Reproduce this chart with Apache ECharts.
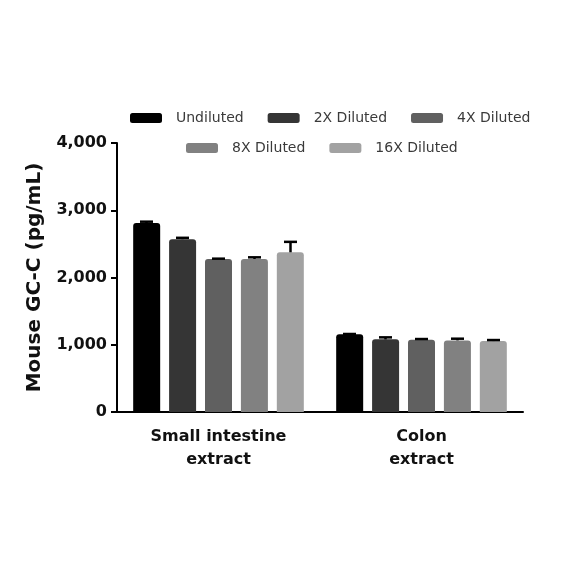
<!DOCTYPE html>
<html>
<head>
<meta charset="utf-8">
<script src="https://cdn.jsdelivr.net/npm/echarts@6/dist/echarts.min.js"></script>
<style>
  html, body { margin: 0; padding: 0; background: #fff; }
  #chart { width: 584px; height: 584px; }
</style>
</head>
<body>
<div id="chart"></div>
<script>
// data
var categories = ['Small intestine\nextract', 'Colon\nextract'];
var seriesNames = ['Undiluted', '2X Diluted', '4X Diluted', '8X Diluted', '16X Diluted'];
var undiluted = [2810, 1155];
var diluted2x = [2570, 1080];
var diluted4x = [2275, 1075];
var diluted8x = [2275, 1065];
var diluted16x = [2375, 1055];
var errUndiluted = [20, 5];
var err2x = [20, 30];
var err4x = [5, 10];
var err8x = [25, 25];
var err16x = [155, 15];
var yTicks = [0, 1000, 2000, 3000, 4000];

var values = [undiluted, diluted2x, diluted4x, diluted8x, diluted16x];
var errors = [errUndiluted, err2x, err4x, err8x, err16x];
var colors = ['#000000', '#353535', '#606060', '#818181', '#a2a2a2'];

var FONT = 'DejaVu Sans';
var BAR_W = 27;
var BAR_STEP = 36; // bar width + gap

var chart = echarts.init(document.getElementById('chart'));

var series = [];
seriesNames.forEach(function (name, i) {
  series.push({
    name: name,
    type: 'bar',
    data: values[i],
    barWidth: BAR_W,
    barGap: '33%',
    itemStyle: { color: colors[i], borderRadius: [3, 3, 0, 0] },
    z: 2
  });
});
// error bars (upper only), drawn on top of each bar
seriesNames.forEach(function (name, i) {
  series.push({
    type: 'custom',
    silent: true,
    z: 3,
    data: values[i].map(function (v, c) { return [c, v, errors[i][c]]; }),
    renderItem: function (params, api) {
      var c = api.value(0), v = api.value(1), e = api.value(2);
      var base = api.coord([c, v]);
      var top = api.coord([c, v + e]);
      var x = base[0] + (i - 2) * BAR_STEP;
      var style = { stroke: '#000', lineWidth: 2.5 };
      return {
        type: 'group',
        children: [
          { type: 'line', shape: { x1: x, y1: base[1], x2: x, y2: top[1] }, style: style },
          { type: 'line', shape: { x1: x - 6.5, y1: top[1], x2: x + 6.5, y2: top[1] }, style: style }
        ]
      };
    }
  });
});

var legendText = { fontFamily: FONT, fontSize: 14, color: '#3a3a3a', padding: [0, 0, 0, 9] };

var option = {
  animation: false,
  backgroundColor: '#fff',
  legend: [{
    data: seriesNames.slice(0, 3),
    top: 106,
    left: 125,
    itemWidth: 32,
    itemHeight: 10,
    itemGap: 24,
    icon: 'roundRect',
    textStyle: legendText
  }, {
    data: seriesNames.slice(3),
    top: 136,
    left: 181,
    itemWidth: 32,
    itemHeight: 10,
    itemGap: 24,
    icon: 'roundRect',
    textStyle: legendText
  }],
  grid: { left: 117, right: 61, top: 143, bottom: 172 },
  xAxis: {
    type: 'category',
    data: categories,
    boundaryGap: true,
    axisLine: { lineStyle: { color: '#000', width: 2 } },
    axisTick: { alignWithLabel: true, length: 6, lineStyle: { color: '#000', width: 2 } },
    axisLabel: {
      color: '#111', fontFamily: FONT, fontWeight: 'bold', fontSize: 16,
      lineHeight: 23, margin: 13
    }
  },
  yAxis: {
    type: 'value',
    min: yTicks[0],
    max: yTicks[yTicks.length - 1],
    interval: 1000,
    name: 'Mouse GC-C (pg/mL)',
    nameLocation: 'middle',
    nameGap: 72,
    nameTextStyle: { color: '#111', fontFamily: FONT, fontWeight: 'bold', fontSize: 20 },
    axisLine: { show: true, lineStyle: { color: '#000', width: 2 } },
    axisTick: { show: true, length: 6, lineStyle: { color: '#000', width: 2 } },
    splitLine: { show: false },
    axisLabel: {
      color: '#111', fontFamily: FONT, fontWeight: 'bold', fontSize: 16, margin: 10,
      formatter: function (v) { return v.toLocaleString('en-US'); }
    }
  },
  series: series
};

chart.setOption(option);
</script>
</body>
</html>
